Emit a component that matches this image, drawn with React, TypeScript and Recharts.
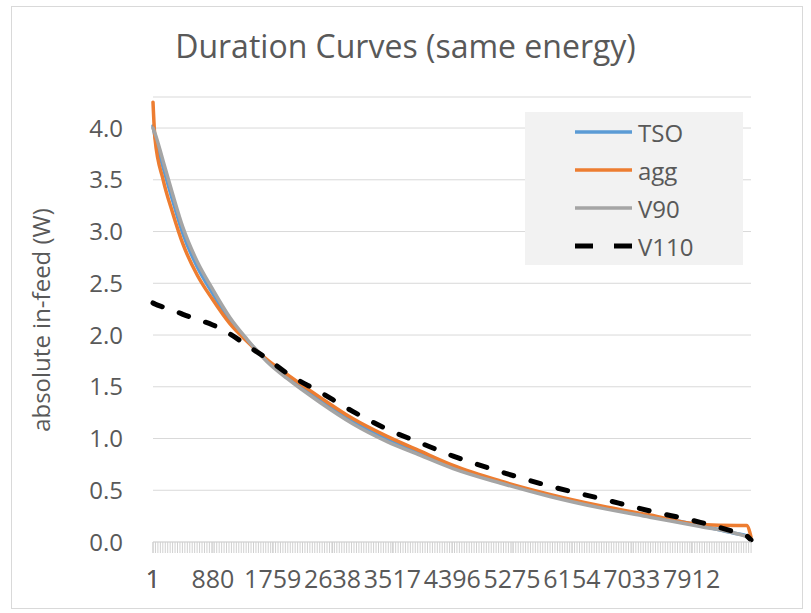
import React from "react";
import {
  LineChart,
  Line,
  XAxis,
  YAxis,
  CartesianGrid
} from "recharts";

// hour of the year (sorted duration index)
const HOURS = [1, 30, 150, 290, 440, 650, 870, 1130, 1380, 1680, 1970, 2450, 2940, 3440, 3920, 4410, 5100, 5830, 6570, 7300, 8040, 8580, 8720, 8784];
const TSO = [4.02, 3.92, 3.62, 3.3, 2.98, 2.66, 2.41, 2.14, 1.95, 1.75, 1.6, 1.37, 1.16, 0.99, 0.86, 0.72, 0.58, 0.45, 0.34, 0.25, 0.16, 0.08, 0.06, 0.02];
const AGG = [4.25, 3.9, 3.5, 3.18, 2.88, 2.58, 2.35, 2.11, 1.94, 1.76, 1.62, 1.4, 1.19, 1.02, 0.88, 0.74, 0.59, 0.46, 0.35, 0.26, 0.17, 0.16, 0.16, 0.05];
const V90 = [4.0, 3.95, 3.68, 3.36, 3.04, 2.71, 2.45, 2.17, 1.96, 1.74, 1.58, 1.35, 1.14, 0.97, 0.84, 0.71, 0.57, 0.44, 0.33, 0.24, 0.15, 0.08, 0.05, 0.02];
const V110 = [2.31, 2.3, 2.27, 2.24, 2.2, 2.15, 2.1, 2.01, 1.9, 1.77, 1.63, 1.45, 1.26, 1.09, 0.96, 0.83, 0.68, 0.54, 0.42, 0.3, 0.19, 0.09, 0.06, 0.02];

const LABEL_TICKS = [1, 880, 1759, 2638, 3517, 4396, 5275, 6154, 7033, 7912];
const Y_TICKS = [0, 0.5, 1, 1.5, 2, 2.5, 3, 3.5, 4];

const data = HOURS.map((h, i) => ({
  h,
  TSO: TSO[i],
  agg: AGG[i],
  V90: V90[i],
  V110: V110[i]
}));

// dense minor ticks along the category axis (gives the grey band)
const bandTicks = Array.from({ length: 245 }, (_, i) => 1 + i * 36)
  .concat(LABEL_TICKS)
  .sort((a, b) => a - b);

const FONT = "'Open Sans', 'Liberation Sans', sans-serif";
const TEXT = "#595959";

const SERIES = [
  { key: "TSO", color: "#5b9bd5", dash: undefined },
  { key: "agg", color: "#ed7d31", dash: undefined },
  { key: "V90", color: "#a5a5a5", dash: undefined },
  { key: "V110", color: "#000000", dash: "10 18" }
];

const XTick = (props: any) => {
  const { x, y, payload } = props;
  const isLabel = LABEL_TICKS.includes(payload.value);
  return (
    <g>
      <line x1={x} x2={x} y1={y} y2={y + 11} stroke="#d0d0d0" strokeWidth={1} />
      {isLabel && (
        <text x={x} y={y + 46} textAnchor="middle" fill={TEXT} fontSize={25} fontFamily={FONT}>
          {payload.value}
        </text>
      )}
    </g>
  );
};

const ChartLegend = () => (
  <div
    style={{
      position: "absolute",
      left: 525,
      top: 112,
      width: 218,
      height: 153,
      background: "#f2f2f2",
      fontFamily: FONT,
      fontSize: 24,
      color: TEXT,
      paddingTop: 1,
      boxSizing: "border-box"
    }}
  >
    {SERIES.map((s) => (
      <div key={s.key} style={{ height: 38, display: "flex", alignItems: "center" }}>
        <svg width={113} height={38}>
          <line
            x1={50}
            x2={107}
            y1={19}
            y2={19}
            stroke={s.color}
            strokeWidth={s.dash ? 5 : 3.5}
            strokeDasharray={s.dash ? "18 21" : undefined}
          />
        </svg>
        <span>{s.key}</span>
      </div>
    ))}
  </div>
);

export default function App() {
  return (
    <div
      style={{
        position: "absolute",
        left: 0,
        top: 0,
        width: 811,
        height: 613,
        background: "#fff"
      }}
    >
      <div
        style={{
          position: "absolute",
          left: 11,
          top: 6,
          width: 790,
          height: 601,
          border: "1px solid #d9d9d9"
        }}
      />
      <div
        style={{
          position: "absolute",
          left: 0,
          top: 25,
          width: 811,
          textAlign: "center",
          fontFamily: FONT,
          fontSize: 32,
          lineHeight: "42px",
          color: TEXT
        }}
      >
        Duration Curves (same energy)
      </div>
      <div style={{ position: "absolute", left: 0, top: 0 }}>
        <LineChart
          width={811}
          height={613}
          data={data}
          margin={{ top: 97, right: 60, bottom: 0, left: 0 }}
        >
          <CartesianGrid vertical={false} stroke="#d9d9d9" />
          <XAxis
            dataKey="h"
            type="number"
            domain={[1, 8784]}
            ticks={bandTicks}
            interval={0}
            height={71}
            tickSize={0}
            tickMargin={0}
            tickLine={false}
            axisLine={{ stroke: "#d9d9d9" }}
            tick={<XTick />}
          />
          <YAxis
            type="number"
            domain={[0, 4.3]}
            ticks={Y_TICKS}
            width={153}
            tickSize={0}
            tickMargin={30}
            tickLine={false}
            axisLine={false}
            tickFormatter={(v: number) => v.toFixed(1)}
            tick={{ fill: TEXT, fontSize: 24, fontFamily: FONT }}
            label={{
              content: () => (
                <text
                  x={40}
                  y={320}
                  transform="rotate(-90 40 320)"
                  textAnchor="middle"
                  dominantBaseline="central"
                  fill={TEXT}
                  fontSize={24}
                  fontFamily={FONT}
                >
                  absolute in-feed (W)
                </text>
              )
            }}
          />
          {SERIES.map((s) => (
            <Line
              key={s.key}
              dataKey={s.key}
              type="monotone"
              stroke={s.color}
              strokeWidth={s.dash ? 5 : 3.5}
              strokeDasharray={s.dash}
              strokeLinecap="round"
              dot={false}
              isAnimationActive={false}
            />
          ))}
        </LineChart>
      </div>
      <ChartLegend />
    </div>
  );
}
